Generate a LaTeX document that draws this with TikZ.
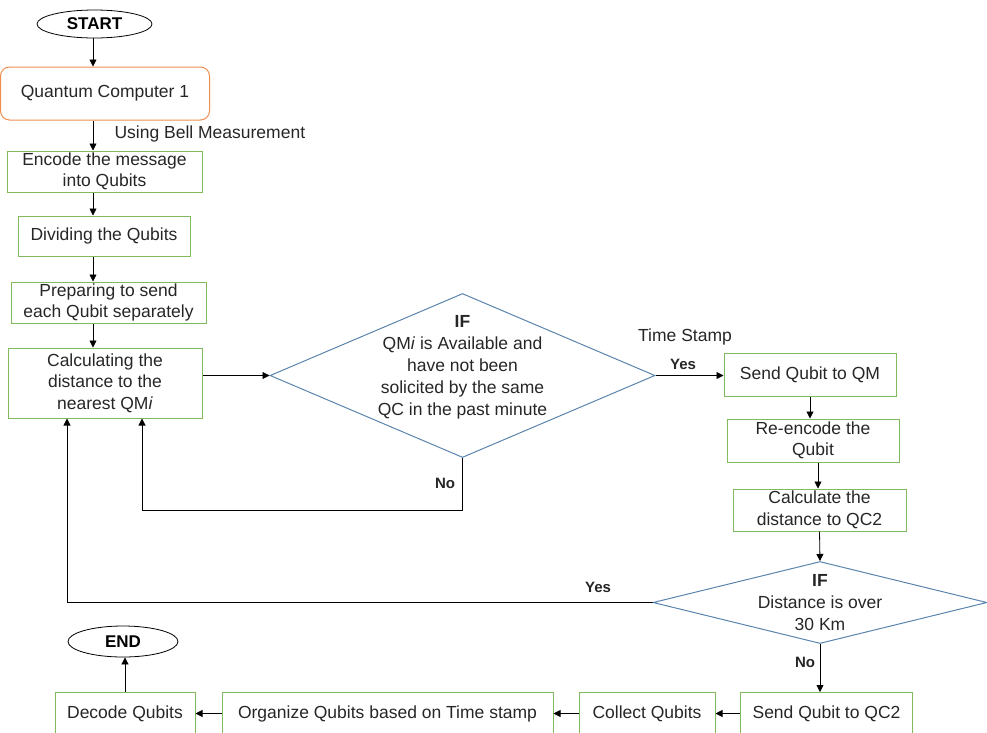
\documentclass[tikz,border=0pt]{standalone}
\usepackage{fontspec}
\setmainfont{Liberation Sans}
\usetikzlibrary{arrows.meta,shapes.geometric,calc}
\definecolor{boxgreen}{HTML}{82BB5E}
\definecolor{dblue}{HTML}{5A84AE}
\definecolor{qorange}{HTML}{EE8E4F}
\definecolor{txt}{HTML}{262626}
\tikzset{
  stepbox/.style={draw=boxgreen, line width=1pt, inner sep=0pt, align=center, text=txt, font=\fontsize{17.5}{21.5}\selectfont},
  term/.style={draw=black, ellipse, line width=0.8pt, inner sep=0pt, font=\bfseries\fontsize{17}{20}\selectfont},
  decision/.style={draw=dblue, diamond, line width=1pt, inner sep=0pt},
  dtext/.style={align=center, text=txt, font=\fontsize{17.5}{22}\selectfont},
  lbl/.style={font=\bfseries\fontsize{15}{18}\selectfont, text=txt},
  plain/.style={text=txt, font=\fontsize{17.5}{21}\selectfont},
  arr/.style={draw=black, line width=0.8pt, -{Triangle[length=7pt,width=7pt]}},
  ln/.style={draw=black, line width=0.8pt}
}
\begin{document}
\begin{tikzpicture}[x=1pt,y=-1pt]
\useasboundingbox (0,0) rectangle (987,732);
% terminals
\node[term, minimum width=115, minimum height=28] (start) at (94.5,24) {START};
\node[term, minimum width=110, minimum height=31] (end) at (123,641.5) {END};
% left column
\node[stepbox, draw=qorange, rounded corners=9pt, minimum width=209, minimum height=53] (qc1) at (105,93.5) {Quantum Computer 1};
\node[stepbox, minimum width=195, minimum height=41] (enc) at (104.5,171.5) {Encode the message\\into Qubits};
\node[stepbox, minimum width=172, minimum height=40] (div) at (104,236) {Dividing the Qubits};
\node[stepbox, minimum width=195, minimum height=41] (prep) at (108.5,302.5) {Preparing to send\\each Qubit separately};
\node[stepbox, minimum width=194, minimum height=70] (calc) at (105,383) {Calculating the\\distance to the\\nearest QM\textit{i}};
% decision 1
\node[decision, minimum width=385, minimum height=164] (d1) at (462.5,375.5) {};
\node[dtext] (d1t) at (462.5,367) {\textbf{IF}\\QM\textit{i} is Available and\\have not been\\solicited by the same\\QC in the past minute};
% right column
\node[stepbox, minimum width=172, minimum height=43] (sqm) at (810,375) {Send Qubit to QM};
\node[stepbox, minimum width=172, minimum height=43] (reenc) at (813,440.5) {Re-encode the\\Qubit};
\node[stepbox, minimum width=173, minimum height=42] (cqc2) at (819.5,510) {Calculate the\\distance to QC2};
% decision 2
\node[decision, minimum width=334, minimum height=82] (d2) at (820,602.5) {};
\node[dtext] (d2t) at (820,602.5) {\textbf{IF}\\Distance is over\\30 Km};
% bottom row
\node[stepbox, minimum width=172, minimum height=42] (sqc2) at (826.5,713.5) {Send Qubit to QC2};
\node[stepbox, minimum width=136, minimum height=42] (coll) at (647,713.5) {Collect Qubits};
\node[stepbox, minimum width=331, minimum height=42] (org) at (387.5,713.5) {Organize Qubits based on Time stamp};
\node[stepbox, minimum width=140, minimum height=42] (dec) at (125,713.5) {Decode Qubits};
% labels
\node[plain, anchor=west] (bell) at (111,134) {Using Bell Measurement};
\node[plain] (ts) at (685,337) {Time Stamp};
\node[lbl] (yes1) at (683,364) {Yes};
\node[lbl] (no1) at (445,483) {No};
\node[lbl] (yes2) at (598,587) {Yes};
\node[lbl] (no2) at (805,662) {No};
% helper coordinates
\coordinate (colx) at (93,0);
\coordinate (noy) at (0,510);
\coordinate (nox) at (142,0);
\coordinate (yesx) at (67,0);
% connectors left column
\draw[arr] (colx |- start.south) -- (colx |- qc1.north);
\draw[arr] (colx |- qc1.south) -- (colx |- enc.north);
\draw[arr] (colx |- enc.south) -- (colx |- div.north);
\draw[arr] (colx |- div.south) -- (colx |- prep.north);
\draw[arr] (colx |- prep.south) -- (colx |- calc.north);
\draw[arr] (calc.east |- d1.west) -- (d1.west);
% decision 1
\draw[arr] (d1.east) -- (sqm.west |- d1.east);
\draw[arr] (d1.south) |- (nox |- noy) -- (nox |- calc.south);
% right column
\draw[arr] (sqm.south) -- (sqm.south |- reenc.north);
\draw[arr] ([xshift=5pt]reenc.south) -- ([xshift=5pt]reenc.south |- cqc2.north);
\draw[arr] (cqc2.south) -- (d2.north);
\draw[arr] (d2.west) -| (yesx |- calc.south);
\draw[arr] (d2.south) -- (d2.south |- sqc2.north);
% bottom row
\draw[arr] (sqc2.west) -- (coll.east);
\draw[arr] (coll.west) -- (org.east);
\draw[arr] (org.west) -- (dec.east);
\draw[arr] (dec.north) -- (dec.north |- end.south);
\end{tikzpicture}
\end{document}
